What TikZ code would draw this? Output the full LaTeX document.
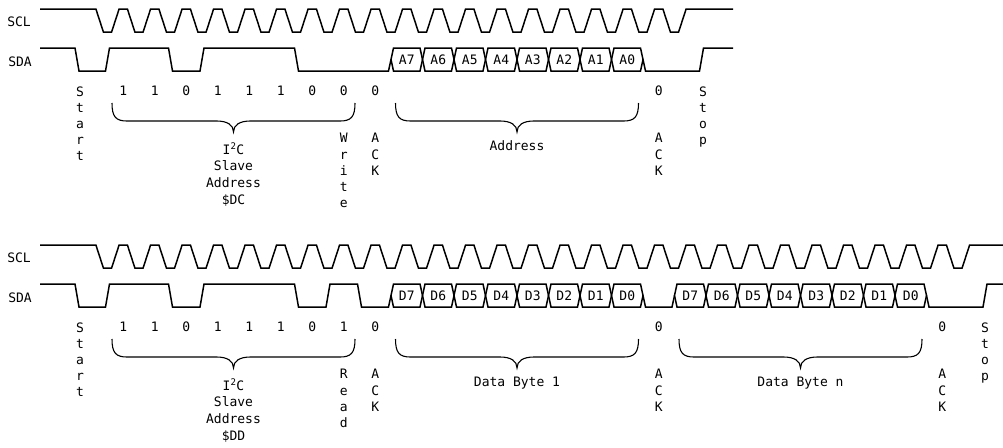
\documentclass[tikz,border=0pt]{standalone}
\usepackage{fontspec}
\newfontfamily\sigfont{DejaVu Sans Mono}

% clock line: index of the last low slot, end of the line
\newcommand{\sclwave}[2]{%
  \draw[wave] (40,9) foreach \k in {0,...,#1}{
      -- ({95.9+31.5*\k},9) -- ({103.4+31.5*\k},32)
      -- ({111.6+31.5*\k},32) -- ({119.1+31.5*\k},9)} -- (#2,9);}

% one byte on SDA: first slot, bit letter, name prefix
\newcommand{\sdabyte}[3]{%
  \foreach \b [count=\i from 0] in {7,...,0}{
    \pgfmathsetmacro{\bx}{107.5+31.5*(#1+\i)}
    \draw[wave] (\bx,59.5) -- ({\bx+2.5},48) -- ({\bx+29},48) -- ({\bx+31.5},59.5)
      -- ({\bx+29},71) -- ({\bx+2.5},71) -- cycle;
    \node[lbl] (#3\b) at ({\bx+15.75},59.5) {#2\b};}}

% brace under the bits: left, right, tip, top
\newcommand{\bitbrace}[4]{%
  \draw[brc] (#1,#4) .. controls (#1,{#4+14}) and ({#1+4},{#4+18}) .. ({#1+15},{#4+18})
    -- ({#3-17},{#4+18}) .. controls ({#3-6},{#4+18}) and (#3,{#4+22}) .. (#3,{#4+29})
    .. controls (#3,{#4+22}) and ({#3+6},{#4+18}) .. ({#3+17},{#4+18})
    -- ({#2-15},{#4+18}) .. controls ({#2-4},{#4+18}) and (#2,{#4+14}) .. (#2,#4);}

\begin{document}
\begin{tikzpicture}[x=1pt, y=-1pt,
    wave/.style={line width=1.5pt},
    brc/.style={line width=1.1pt},
    lbl/.style={font=\sigfont\fontsize{13}{16.2}\selectfont, inner sep=0pt},
    vlbl/.style={lbl, align=center, anchor=north}]
  \useasboundingbox (0,0) rectangle (1003,447);

  % write: slave address $DC, then register address
  \node[lbl] (sclw) at (19,22) {SCL};
  \node[lbl] (sdaw) at (20,62) {SDA};
  \sclwave{18}{733}
  \draw[wave] (40,48) -- (75,48) -- (79,71) -- (105.5,71) -- (109.5,48)
    -- (168.5,48) -- (172.5,71) -- (200,71) -- (204,48)
    -- (294.5,48) -- (298.5,71) -- (388.5,71) -- (391,59.5);
  \sdabyte{9}{A}{adr}
  \draw[wave] (643,59.5) -- (645.5,71) -- (699.5,71) -- (703.5,48) -- (733,48);
  \foreach \v [count=\i from 0] in {1,1,0,1,1,1,0,0,0}
    \node[lbl] (wbit\i) at ({123.25+31.5*\i},91) {\v};
  \node[lbl] (wack) at (658.75,91) {0};
  \node[vlbl] (wstart) at (80,86.3) {S\\t\\a\\r\\t};
  \node[vlbl] (wrw) at (343.75,133.3) {W\\r\\i\\t\\e};
  \node[vlbl] (wackone) at (375.25,133.3) {A\\C\\K};
  \node[vlbl] (wacktwo) at (658.75,133.3) {A\\C\\K};
  \node[vlbl] (wstop) at (703,86.3) {S\\t\\o\\p};
  \bitbrace{112}{355}{233.5}{103}
  \bitbrace{395.5}{638.5}{517}{103}
  \node[vlbl, font=\sigfont\fontsize{13}{16.6}\selectfont] (wslave) at (233.5,143)
    {I\textsuperscript{2}C\\Slave\\Address\\\$DC};
  \node[lbl] (wadr) at (517,146) {Address};

  % read: slave address $DD, then data bytes
  \begin{scope}[yshift=-236pt]
    \node[lbl] (sclr) at (19,22) {SCL};
    \node[lbl] (sdar) at (20,62) {SDA};
    \sclwave{27}{1003}
    \draw[wave] (40,48) -- (75,48) -- (79,71) -- (105.5,71) -- (109.5,48)
      -- (168.5,48) -- (172.5,71) -- (200,71) -- (204,48)
      -- (294.5,48) -- (298.5,71) -- (326,71) -- (330,48)
      -- (357.5,48) -- (361.5,71) -- (388.5,71) -- (391,59.5);
    \sdabyte{9}{D}{first}
    \draw[wave] (643,59.5) -- (645.5,71) -- (672,71) -- (674.5,59.5);
    \sdabyte{18}{D}{last}
    \draw[wave] (926.5,59.5) -- (929,71) -- (983,71) -- (987,48) -- (1003,48);
    \foreach \v [count=\i from 0] in {1,1,0,1,1,1,0,1,0}
      \node[lbl] (rbit\i) at ({123.25+31.5*\i},91) {\v};
    \node[lbl] (rackone) at (658.75,91) {0};
    \node[lbl] (racktwo) at (942.25,91) {0};
    \node[vlbl] (rstart) at (80,86.3) {S\\t\\a\\r\\t};
    \node[vlbl] (rrw) at (343.75,133.3) {R\\e\\a\\d};
    \node[vlbl] (rackA) at (375.25,133.3) {A\\C\\K};
    \node[vlbl] (rackB) at (658.75,133.3) {A\\C\\K};
    \node[vlbl] (rackC) at (942.25,133.3) {A\\C\\K};
    \node[vlbl] (rstop) at (985,86.3) {S\\t\\o\\p};
    \bitbrace{112}{355}{233.5}{103}
    \bitbrace{395.5}{638.5}{517}{103}
    \bitbrace{679}{922}{800.5}{103}
    \node[vlbl, font=\sigfont\fontsize{13}{16.6}\selectfont] (rslave) at (233.5,143)
      {I\textsuperscript{2}C\\Slave\\Address\\\$DD};
    \node[lbl, anchor=base] (rdataone) at (517,150.7) {Data Byte 1};
    \node[lbl, anchor=base] (rdatan) at (800.5,150.7) {Data Byte n};
  \end{scope}
\end{tikzpicture}
\end{document}
